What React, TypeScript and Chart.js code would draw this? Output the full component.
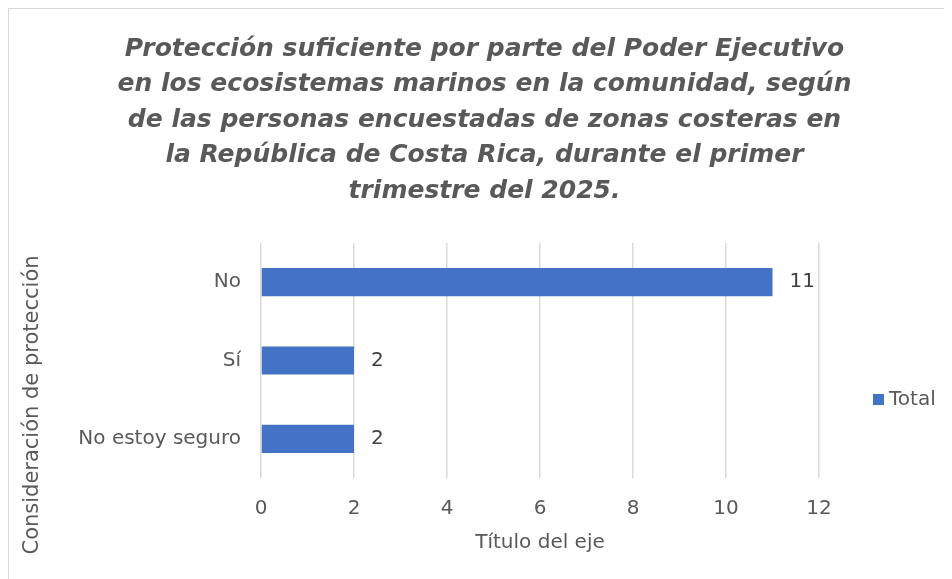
import React, { useEffect, useRef } from "react";
import { Chart, registerables } from "chart.js";

Chart.register(...registerables);

const titleLines = [
  "Protección suficiente por parte del Poder Ejecutivo",
  "en los ecosistemas marinos en la comunidad, según",
  "de las personas encuestadas de zonas costeras en",
  "la República de Costa Rica, durante el primer",
  "trimestre del 2025.",
];
const categories = ["No", "Sí", "No estoy seguro"];
const seriesName = "Total";
const totals = [11, 2, 2];
const xAxisTitle = "Título del eje";
const yAxisTitle = "Consideración de protección";
const xMin = 0;
const xMax = 12;
const xStep = 2;

const BAR_COLOR = "#4472C4";
const TEXT_COLOR = "#595959";
const FONT = "'DejaVu Sans', sans-serif";

const extrasPlugin = {
  id: "extras",
  afterDatasetsDraw(chart: any) {
    const { ctx, chartArea } = chart;
    ctx.save();
    // title
    ctx.font = `italic bold 25px ${FONT}`;
    ctx.fillStyle = TEXT_COLOR;
    ctx.textAlign = "center";
    ctx.textBaseline = "middle";
    titleLines.forEach((line, i) => {
      ctx.fillText(line, 475.5, 40.5 + i * 35.4);
    });
    // data labels
    const meta = chart.getDatasetMeta(0);
    ctx.font = `20px ${FONT}`;
    ctx.fillStyle = "#404040";
    ctx.textAlign = "left";
    meta.data.forEach((bar: any, i: number) => {
      ctx.fillText(String(chart.data.datasets[0].data[i]), bar.x + 17, bar.y);
    });
    // y axis title
    ctx.save();
    ctx.font = `21px ${FONT}`;
    ctx.translate(24, 396);
    ctx.rotate(-Math.PI / 2);
    ctx.textAlign = "center";
    ctx.fillStyle = TEXT_COLOR;
    ctx.fillText(yAxisTitle, 0, 0);
    ctx.restore();
    // legend
    ctx.font = `20px ${FONT}`;
    const lx = chartArea.right + 54;
    const ly = 390.5;
    ctx.fillStyle = BAR_COLOR;
    ctx.fillRect(lx, ly - 5.5, 11, 11);
    ctx.fillStyle = TEXT_COLOR;
    ctx.textAlign = "left";
    ctx.fillText(chart.data.datasets[0].label, lx + 16, ly);
    ctx.restore();
  },
};

export default function App() {
  const ref = useRef<HTMLCanvasElement>(null);
  useEffect(() => {
    if (!ref.current) return;
    const chart = new Chart(ref.current, {
      type: "bar",
      data: {
        labels: categories,
        datasets: [
          {
            label: seriesName,
            data: totals,
            backgroundColor: BAR_COLOR,
            barPercentage: 0.36,
            categoryPercentage: 1,
          },
        ],
      },
      options: {
        indexAxis: "y",
        responsive: false,
        animation: false,
        layout: { padding: { left: 0, right: 133, top: 234, bottom: 24 } },
        plugins: {
          legend: { display: false },
          tooltip: { enabled: false },
          title: { display: false },
        },
        scales: {
          x: {
            min: xMin,
            max: xMax,
            ticks: {
              stepSize: xStep,
              color: TEXT_COLOR,
              font: { family: FONT, size: 20 },
              padding: 19,
            },
            grid: { color: "#d9d9d9", lineWidth: 1.5, drawTicks: false },
            border: { display: false },
            title: {
              display: true,
              text: xAxisTitle,
              color: TEXT_COLOR,
              font: { family: FONT, size: 20 },
              padding: { top: 0, bottom: 0 },
            },
            afterFit(scale: any) {
              scale.height = 77;
            },
          },
          y: {
            ticks: {
              color: TEXT_COLOR,
              font: { family: FONT, size: 20 },
              padding: 20,
            },
            grid: { display: false, drawTicks: false },
            border: { display: false },
            afterFit(scale: any) {
              scale.width = 252;
            },
          },
        },
      },
      plugins: [extrasPlugin],
    });
    return () => chart.destroy();
  }, []);
  return (
    <div
      style={{
        width: 944,
        height: 571,
        borderTop: "1px solid #d9d9d9",
        borderLeft: "1px solid #d9d9d9",
        boxSizing: "border-box",
      }}
    >
      <canvas ref={ref} width={943} height={570} style={{ display: "block" }} />
    </div>
  );
}
